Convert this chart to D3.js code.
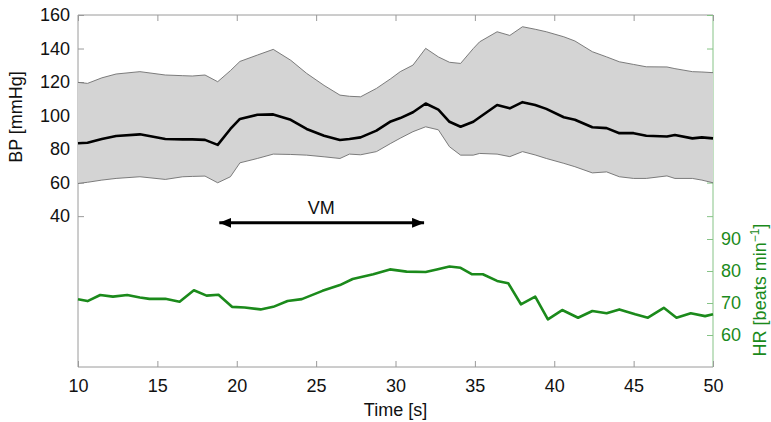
<!DOCTYPE html>
<html>
<head>
<meta charset="utf-8">
<script src="https://cdn.jsdelivr.net/npm/d3@7/dist/d3.min.js"></script>
<style>
  html, body { margin: 0; padding: 0; background: #fff; }
  svg text { font-family: "Liberation Sans", Arial, Helvetica, sans-serif; }
</style>
</head>
<body>
<svg id="chart" width="771" height="422"></svg>
<script>
// Blood pressure: time points, mean and spread band (mmHg)
const bpTime  = [10, 10.6, 11.5, 12.4, 13.9, 15.5, 16.6, 17.2, 18, 18.8, 19.6, 20.2, 21.3, 22.3, 23.4, 24.4, 25.5, 26.5, 27.1, 27.8, 28.8, 29.7, 30.3, 31.1, 31.9, 32.7, 33.4, 34.1, 34.9, 35.3, 36.4, 37.2, 38, 38.8, 39.5, 40.6, 41.3, 42.4, 43.3, 44.1, 45, 45.8, 47.1, 47.6, 48.7, 49.3, 50];
const bpMean  = [83.5, 83.8, 86, 87.8, 88.8, 86, 85.8, 85.8, 85.5, 82.5, 92, 98, 100.5, 100.7, 97.5, 92, 88, 85.4, 86, 87, 91, 96.5, 98.5, 102, 107.2, 103.5, 96.3, 93.3, 96.3, 99, 106.3, 104.3, 108, 106.3, 104, 99, 97.5, 93, 92.5, 89.5, 89.5, 88, 87.5, 88.4, 86.4, 87, 86.4];
const bpUpper = [119.8, 119.2, 122.5, 124.8, 126.2, 124.2, 123.8, 123.6, 124.2, 120.2, 126.8, 132.3, 136.1, 139.5, 133, 125.2, 118, 112.2, 111.5, 111.2, 116.2, 122, 126.2, 130.1, 140.1, 135, 131.8, 131.1, 140, 144, 150, 147.8, 153, 151.5, 150, 147, 144.5, 138.1, 135, 132.1, 130.5, 129.1, 129, 128, 126.2, 126, 125.6];
const bpLower = [59.5, 60.2, 61.5, 62.5, 63.5, 61.9, 63.5, 63.7, 63.9, 59.9, 63.5, 71.8, 74.4, 77, 76.8, 76.4, 75.4, 74.4, 77, 76.6, 78.5, 83.4, 86.5, 90.4, 93.3, 91.5, 81.4, 76.4, 76.4, 77.4, 77, 75.5, 78.5, 76.5, 74.4, 71.5, 69.5, 65.8, 66.4, 63.5, 62.5, 62.5, 64, 62.5, 62.5, 61.5, 59.9];

// Heart rate (beats per minute)
const hrTime  = [10, 10.6, 11.4, 12.2, 13.1, 13.9, 14.5, 15.5, 16.4, 17.3, 18.1, 18.85, 19.7, 20.5, 21.5, 22.3, 23.2, 24.1, 25.4, 26.5, 27.3, 28.6, 29.65, 30.7, 31.9, 32.6, 33.4, 34.1, 34.8, 35.5, 36.4, 37.1, 37.9, 38.8, 39.6, 40.5, 41.5, 42.4, 43.3, 44.1, 45.1, 45.9, 46.9, 47.7, 48.6, 49.5, 50];
const hrValue = [71.2, 70.6, 72.5, 72, 72.5, 71.7, 71.3, 71.3, 70.4, 74, 72.3, 72.6, 68.8, 68.6, 68, 68.8, 70.6, 71.2, 73.8, 75.6, 77.5, 79, 80.5, 79.8, 79.7, 80.5, 81.4, 81, 79, 79, 76.9, 76.2, 69.6, 72, 64.9, 67.8, 65.4, 67.5, 66.8, 68, 66.5, 65.4, 68.5, 65.4, 66.8, 65.9, 66.5];

// Axis ticks
const timeTicks = [10, 15, 20, 25, 30, 35, 40, 45, 50];
const bpTicks   = [40, 60, 80, 100, 120, 140, 160];
const hrTicks   = [60, 70, 80, 90];

// Valsalva manoeuvre interval (s) and its marker height on the BP scale
const vmStart = 18.9, vmEnd = 31.8, vmLevel = 36;

const svg = d3.select("#chart");
const L = 78, R = 713, T = 15, B = 367;

const x   = d3.scaleLinear().domain([10, 50]).range([L, R]);
const yBP = d3.scaleLinear().domain([-50, 160]).range([B, T]);
const yHR = d3.scaleLinear().domain([50, 160]).range([B, T]);

const axisGrey = "#9a9a9a";
const green = "#1b8a1b";
const lightGreen = "#86c386";
const tickLen = 6;
const font = "Liberation Sans, Arial, sans-serif";

// Box: bottom/left/top grey, right green
const axes = svg.append("g");
axes.append("line").attr("x1", L).attr("x2", R).attr("y1", B).attr("y2", B).attr("stroke", axisGrey);
axes.append("line").attr("x1", L).attr("x2", R).attr("y1", T).attr("y2", T).attr("stroke", axisGrey);
axes.append("line").attr("x1", L).attr("x2", L).attr("y1", T).attr("y2", B).attr("stroke", axisGrey);
axes.append("line").attr("x1", R).attr("x2", R).attr("y1", T).attr("y2", B).attr("stroke", lightGreen);

// Bottom axis (ticks inward) and mirrored top ticks
const xAxis = d3.axisBottom(x).tickValues(timeTicks).tickSizeInner(-tickLen).tickSizeOuter(0).tickPadding(12);
const gx = svg.append("g").attr("transform", `translate(0,${B})`).call(xAxis);
gx.select(".domain").remove();
gx.selectAll(".tick line").attr("stroke", axisGrey);
gx.selectAll(".tick text").attr("font-size", 18).attr("fill", "#111").attr("font-family", font);

const gxTop = svg.append("g").attr("transform", `translate(0,${T})`)
  .call(d3.axisTop(x).tickValues(timeTicks).tickSizeInner(-tickLen).tickSizeOuter(0).tickFormat(""));
gxTop.select(".domain").remove();
gxTop.selectAll(".tick line").attr("stroke", axisGrey);

// Left BP axis (ticks inward) and mirrored ticks on the right edge
const gy = svg.append("g").attr("transform", `translate(${L},0)`)
  .call(d3.axisLeft(yBP).tickValues(bpTicks).tickSizeInner(-tickLen).tickSizeOuter(0).tickPadding(8));
gy.select(".domain").remove();
gy.selectAll(".tick line").attr("stroke", axisGrey);
gy.selectAll(".tick text").attr("font-size", 18).attr("fill", "#111").attr("font-family", font);

const gyMirror = svg.append("g").attr("transform", `translate(${R},0)`)
  .call(d3.axisRight(yBP).tickValues(bpTicks).tickSizeInner(-tickLen).tickSizeOuter(0).tickFormat(""));
gyMirror.select(".domain").remove();
gyMirror.selectAll(".tick line").attr("stroke", lightGreen);

// Right HR axis
const gHR = svg.append("g").attr("transform", `translate(${R},0)`)
  .call(d3.axisRight(yHR).tickValues(hrTicks).tickSizeInner(-tickLen).tickSizeOuter(0).tickPadding(8));
gHR.select(".domain").remove();
gHR.selectAll(".tick line").attr("stroke", lightGreen);
gHR.selectAll(".tick text").attr("font-size", 18).attr("fill", green).attr("font-family", font);

// BP spread band
const bpRows = bpTime.map((t, i) => ({ t, mean: bpMean[i], lo: bpLower[i], hi: bpUpper[i] }));
const band = d3.area().x(d => x(d.t)).y0(d => yBP(d.lo)).y1(d => yBP(d.hi));
svg.append("path").datum(bpRows).attr("d", band).attr("fill", "#d4d4d4").attr("stroke", "none");
svg.append("path").datum(bpRows)
  .attr("d", d3.line().x(d => x(d.t)).y(d => yBP(d.hi)))
  .attr("fill", "none").attr("stroke", "#6e6e6e").attr("stroke-width", 0.9);
svg.append("path").datum(bpRows)
  .attr("d", d3.line().x(d => x(d.t)).y(d => yBP(d.lo)))
  .attr("fill", "none").attr("stroke", "#6e6e6e").attr("stroke-width", 0.9);

// Mean BP
svg.append("path").datum(bpRows)
  .attr("d", d3.line().x(d => x(d.t)).y(d => yBP(d.mean)))
  .attr("fill", "none").attr("stroke", "#000").attr("stroke-width", 2.6)
  .attr("stroke-linejoin", "round");

// Heart rate
const hrRows = hrTime.map((t, i) => ({ t, v: hrValue[i] }));
svg.append("path").datum(hrRows)
  .attr("d", d3.line().x(d => x(d.t)).y(d => yHR(d.v)))
  .attr("fill", "none").attr("stroke", green).attr("stroke-width", 2.6)
  .attr("stroke-linejoin", "round");

// VM double-headed arrow
const defs = svg.append("defs");
["start", "end"].forEach(k => {
  defs.append("marker").attr("id", "arrow-" + k)
    .attr("viewBox", "0 0 12 10").attr("refX", k === "end" ? 12 : 0).attr("refY", 5)
    .attr("markerWidth", 12).attr("markerHeight", 10).attr("markerUnits", "userSpaceOnUse")
    .attr("orient", "auto")
    .append("path")
    .attr("d", k === "end" ? "M0,0 L12,5 L0,10 Z" : "M12,0 L0,5 L12,10 Z")
    .attr("fill", "#000");
});
const ay = yBP(vmLevel);
svg.append("line")
  .attr("x1", x(vmStart)).attr("x2", x(vmEnd)).attr("y1", ay).attr("y2", ay)
  .attr("stroke", "#000").attr("stroke-width", 3)
  .attr("marker-start", "url(#arrow-start)").attr("marker-end", "url(#arrow-end)");
svg.append("text")
  .attr("x", x((vmStart + vmEnd) / 2) - 0.5).attr("y", ay - 9)
  .attr("text-anchor", "middle").attr("font-size", 18).attr("fill", "#111")
  .text("VM");

// Axis titles
svg.append("text")
  .attr("transform", `translate(22,117) rotate(-90)`)
  .attr("text-anchor", "middle").attr("font-size", 18).attr("fill", "#111")
  .text("BP [mmHg]");

svg.append("text")
  .attr("x", (L + R) / 2).attr("y", 416)
  .attr("text-anchor", "middle").attr("font-size", 18).attr("fill", "#111")
  .text("Time [s]");

const hrLabel = svg.append("text")
  .attr("transform", `translate(766,290) rotate(-90)`)
  .attr("text-anchor", "middle").attr("font-size", 18).attr("fill", green);
hrLabel.append("tspan").text("HR [beats min");
hrLabel.append("tspan").attr("font-size", 12).attr("dy", -7).text("\u22121");
hrLabel.append("tspan").attr("dy", 7).text("]");
</script>
</body>
</html>
